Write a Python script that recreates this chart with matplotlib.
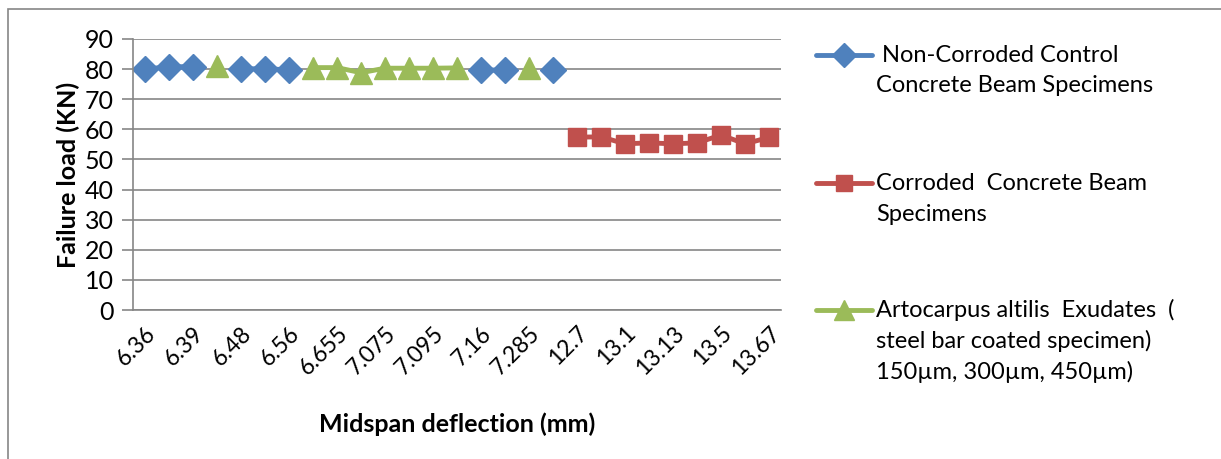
import numpy as np
import matplotlib
matplotlib.use("Agg")
import matplotlib.pyplot as plt
from matplotlib.patches import Rectangle
from matplotlib.lines import Line2D

plt.rcParams['font.family'] = ['Lato', 'DejaVu Sans']

nan = np.nan
# midspan deflection categories (every second one is labelled on the axis)
tick_labels = ["6.36", "6.39", "6.48", "6.56", "6.655", "7.075", "7.095",
               "7.16", "7.285", "12.7", "13.1", "13.13", "13.5", "13.67"]

# failure load (KN) per category, gaps where a series has no reading
control = [80, 80.8, 80.8, nan, 80, 80.2, 79.7, nan, nan, nan, nan, nan, nan, nan,
           79.7, 79.7, nan, 79.7, nan, nan, nan, nan, nan, nan, nan, nan, nan]
corroded = [nan] * 18 + [57.4, 57.5, 55.2, 55.5, 55.2, 55.5, 58.1, 55.2, 57.3]
coated = [nan, nan, nan, 81, nan, nan, nan, 80.5, 80.5, 78.8, 80.3, 80.3, 80.3, 80.4,
          nan, nan, 80.3, nan, nan, nan, nan, nan, nan, nan, nan, nan, nan]

labels = [[" Non-Corroded Control", "Concrete Beam Specimens"],
          ["Corroded  Concrete Beam", "Specimens"],
          ["Artocarpus altilis  Exudates  (", "steel bar coated specimen)",
           "150µm, 300µm, 450µm)"]]

x = np.arange(len(control))
grey = "#868686"
W, H = 1221, 459

fig = plt.figure(figsize=(W / 100, H / 100), dpi=100)
fig.add_artist(Rectangle((8 / W, -0.05), 1.2, 1 - 9 / H + 0.05,
                         transform=fig.transFigure, fill=False,
                         edgecolor=grey, linewidth=1.2))
ax = fig.add_axes([133 / W, 1 - 310 / H, 648 / W, 271 / H])

styles = [dict(color="#4F81BD", marker="D", ms=13.5),
          dict(color="#C0504D", marker="s", ms=13.5),
          dict(color="#9BBB59", marker="^", ms=15.5)]
for series, st in zip([control, corroded, coated], styles):
    ax.plot(x, series, lw=3.5, mec=st["color"], solid_capstyle="round", **st)

ax.set_xlim(-0.5, len(x) - 0.5)
ax.set_ylim(0, 90)
ax.set_yticks(np.arange(0, 91, 10))
ax.set_xticks(x[::2])
ax.set_xticklabels(tick_labels, rotation=45, ha="right", rotation_mode="anchor")
ax.tick_params(axis="x", length=0, labelsize=16.5, pad=9)
ax.tick_params(axis="y", length=8, color=grey, width=1.2, labelsize=18, pad=6)
ax.grid(axis="y", color=grey, lw=1.2)
ax.set_axisbelow(True)
for s in ["top", "right"]:
    ax.spines[s].set_visible(False)
for s in ["left", "bottom"]:
    ax.spines[s].set_color(grey)
    ax.spines[s].set_linewidth(1.2)

ax.set_ylabel("Failure load (KN)", fontsize=18, fontweight="bold", labelpad=3)
ax.set_xlabel("Midspan deflection (mm)", fontsize=18, fontweight="bold", labelpad=24)

# legend drawn by hand so the key sits on the first line of each label
for (lines, st, ypix) in zip(labels, styles, [55, 183, 310]):
    yf = 1 - ypix / H
    fig.add_artist(Line2D([816 / W, 872 / W], [yf, yf], transform=fig.transFigure,
                          color=st["color"], lw=3.5, solid_capstyle="round"))
    fig.add_artist(Line2D([844 / W], [yf], transform=fig.transFigure, lw=0,
                          marker=st["marker"], ms=st["ms"] - 1.5, color=st["color"],
                          mec=st["color"]))
    for i, line in enumerate(lines):
        fig.text(876 / W, 1 - (ypix + 31 * i) / H, line, fontsize=17,
                 va="center", ha="left")

fig.savefig("out.png", dpi=100)
